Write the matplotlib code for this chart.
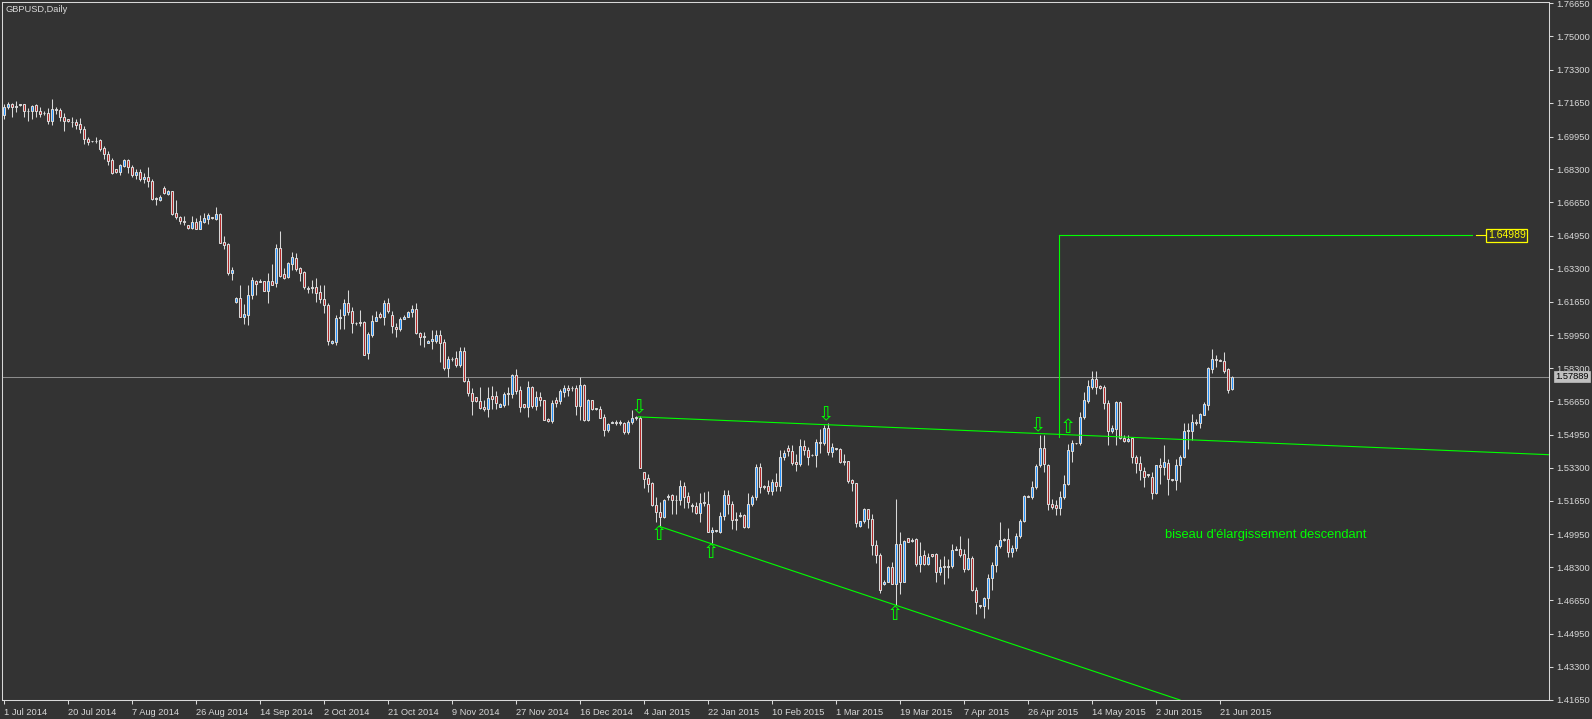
import matplotlib
matplotlib.use("Agg")
import matplotlib.pyplot as plt
from matplotlib.patches import Rectangle

plt.rcParams['font.family'] = ['Liberation Sans', 'DejaVu Sans']

# daily candles GBPUSD, 1 Jul 2014 -> 24 Jun 2015 (bar index 0..307)
opens = [
    1.7102, 1.7142, 1.7159, 1.7147, 1.7155, 1.7159, 1.7123, 1.7122, 1.7152, 1.7122,
    1.7112, 1.7115, 1.7075, 1.7132, 1.7129, 1.7092, 1.7082, 1.7070, 1.7068, 1.7058,
    1.7031, 1.6981, 1.6971, 1.6974, 1.6978, 1.6938, 1.6907, 1.6877, 1.6830, 1.6817,
    1.6847, 1.6877, 1.6844, 1.6800, 1.6815, 1.6780, 1.6790, 1.6770, 1.6683, 1.6676,
    1.6735, 1.6706, 1.6720, 1.6609, 1.6589, 1.6572, 1.6549, 1.6535, 1.6565, 1.6532,
    1.6565, 1.6582, 1.6588, 1.6579, 1.6606, 1.6465, 1.6455, 1.6311, 1.6164, 1.6184,
    1.6090, 1.6100, 1.6197, 1.6267, 1.6262, 1.6267, 1.6220, 1.6267, 1.6257, 1.6435,
    1.6304, 1.6287, 1.6354, 1.6384, 1.6334, 1.6314, 1.6232, 1.6232, 1.6240, 1.6213,
    1.6180, 1.6147, 1.5955, 1.5962, 1.6082, 1.6096, 1.6157, 1.6116, 1.6056, 1.6060,
    1.6063, 1.5905, 1.6000, 1.6070, 1.6103, 1.6090, 1.6157, 1.6100, 1.6040, 1.6026,
    1.6080, 1.6090, 1.6113, 1.6130, 1.6009, 1.5989, 1.5959, 1.5969, 1.5969, 1.5999,
    1.5962, 1.5832, 1.5875, 1.5882, 1.5845, 1.5915, 1.5765, 1.5708, 1.5684, 1.5667,
    1.5637, 1.5624, 1.5691, 1.5691, 1.5637, 1.5646, 1.5703, 1.5703, 1.5796, 1.5722,
    1.5649, 1.5636, 1.5736, 1.5639, 1.5686, 1.5669, 1.5575, 1.5565, 1.5669, 1.5666,
    1.5713, 1.5733, 1.5729, 1.5733, 1.5642, 1.5746, 1.5569, 1.5669, 1.5626, 1.5627,
    1.5585, 1.5518, 1.5555, 1.5560, 1.5557, 1.5555, 1.5512, 1.5559, 1.5582, 1.5582,
    1.5307, 1.5277, 1.5254, 1.5143, 1.5110, 1.5083, 1.5184, 1.5193, 1.5167, 1.5167,
    1.5237, 1.5190, 1.5140, 1.5140, 1.5103, 1.5153, 1.5147, 1.5010, 1.5013, 1.5006,
    1.5086, 1.5194, 1.5150, 1.5073, 1.5090, 1.5093, 1.5033, 1.5146, 1.5183, 1.5336,
    1.5236, 1.5239, 1.5215, 1.5259, 1.5239, 1.5383, 1.5430, 1.5413, 1.5359, 1.5349,
    1.5440, 1.5420, 1.5393, 1.5393, 1.5460, 1.5453, 1.5530, 1.5410, 1.5430, 1.5426,
    1.5359, 1.5363, 1.5269, 1.5252, 1.5038, 1.5061, 1.5121, 1.5075, 1.4941, 1.4890,
    1.4745, 1.4758, 1.4832, 1.4748, 1.4945, 1.4758, 1.4975, 1.4962, 1.4972, 1.4845,
    1.4892, 1.4848, 1.4895, 1.4895, 1.4805, 1.4832, 1.4832, 1.4838, 1.4915, 1.4922,
    1.4899, 1.4822, 1.4878, 1.4714, 1.4640, 1.4637, 1.4677, 1.4778, 1.4842, 1.4939,
    1.4966, 1.4972, 1.4905, 1.4925, 1.4985, 1.5065, 1.5188, 1.5185, 1.5232, 1.5342,
    1.5430, 1.5346, 1.5148, 1.5145, 1.5128, 1.5182, 1.5249, 1.5416, 1.5453, 1.5453,
    1.5584, 1.5668, 1.5738, 1.5775, 1.5741, 1.5735, 1.5658, 1.5513, 1.5527, 1.5661,
    1.5480, 1.5463, 1.5480, 1.5383, 1.5353, 1.5316, 1.5296, 1.5286, 1.5202, 1.5343,
    1.5333, 1.5356, 1.5272, 1.5269, 1.5343, 1.5383, 1.5517, 1.5517, 1.5560, 1.5557,
    1.5597, 1.5648, 1.5828, 1.5875, 1.5872, 1.5868, 1.5825, 1.5724,
]
highs = [
    1.7159, 1.7169, 1.7162, 1.7172, 1.7159, 1.7159, 1.7139, 1.7155, 1.7159, 1.7142,
    1.7122, 1.7139, 1.7182, 1.7142, 1.7139, 1.7112, 1.7085, 1.7092, 1.7082, 1.7088,
    1.7048, 1.6995, 1.6974, 1.6995, 1.6984, 1.6948, 1.6924, 1.6887, 1.6834, 1.6857,
    1.6884, 1.6880, 1.6850, 1.6830, 1.6830, 1.6810, 1.6840, 1.6780, 1.6693, 1.6699,
    1.6745, 1.6726, 1.6723, 1.6676, 1.6596, 1.6596, 1.6552, 1.6596, 1.6586, 1.6602,
    1.6609, 1.6612, 1.6592, 1.6642, 1.6612, 1.6495, 1.6458, 1.6338, 1.6190, 1.6247,
    1.6154, 1.6247, 1.6290, 1.6274, 1.6277, 1.6271, 1.6307, 1.6354, 1.6455, 1.6518,
    1.6334, 1.6364, 1.6415, 1.6411, 1.6341, 1.6317, 1.6244, 1.6274, 1.6284, 1.6250,
    1.6247, 1.6157, 1.5972, 1.6096, 1.6130, 1.6177, 1.6224, 1.6137, 1.6063, 1.6123,
    1.6070, 1.6013, 1.6096, 1.6120, 1.6113, 1.6173, 1.6183, 1.6120, 1.6056, 1.6086,
    1.6096, 1.6120, 1.6147, 1.6157, 1.6013, 1.6013, 1.5972, 1.6023, 1.6023, 1.6023,
    1.5979, 1.5892, 1.5889, 1.5919, 1.5939, 1.5939, 1.5781, 1.5731, 1.5688, 1.5734,
    1.5671, 1.5738, 1.5741, 1.5718, 1.5657, 1.5709, 1.5736, 1.5803, 1.5827, 1.5739,
    1.5649, 1.5766, 1.5743, 1.5716, 1.5709, 1.5672, 1.5579, 1.5672, 1.5686, 1.5726,
    1.5746, 1.5746, 1.5739, 1.5746, 1.5786, 1.5753, 1.5676, 1.5672, 1.5632, 1.5642,
    1.5602, 1.5555, 1.5565, 1.5572, 1.5572, 1.5559, 1.5572, 1.5619, 1.5592, 1.5589,
    1.5309, 1.5301, 1.5257, 1.5183, 1.5160, 1.5173, 1.5200, 1.5196, 1.5193, 1.5271,
    1.5257, 1.5207, 1.5153, 1.5156, 1.5204, 1.5210, 1.5214, 1.5033, 1.5016, 1.5110,
    1.5220, 1.5220, 1.5163, 1.5110, 1.5106, 1.5100, 1.5204, 1.5193, 1.5348, 1.5356,
    1.5246, 1.5269, 1.5276, 1.5306, 1.5420, 1.5420, 1.5443, 1.5443, 1.5400, 1.5477,
    1.5470, 1.5436, 1.5400, 1.5473, 1.5527, 1.5544, 1.5554, 1.5457, 1.5430, 1.5430,
    1.5400, 1.5366, 1.5276, 1.5254, 1.5064, 1.5128, 1.5125, 1.5098, 1.4967, 1.4900,
    1.4765, 1.4835, 1.4858, 1.5173, 1.5006, 1.4966, 1.4979, 1.4975, 1.4976, 1.4959,
    1.4919, 1.4902, 1.4899, 1.4902, 1.4872, 1.4885, 1.4872, 1.4949, 1.4935, 1.4986,
    1.4922, 1.4976, 1.4888, 1.4731, 1.4641, 1.4681, 1.4798, 1.4855, 1.4949, 1.5056,
    1.4979, 1.5026, 1.4940, 1.5000, 1.5075, 1.5195, 1.5191, 1.5262, 1.5349, 1.5493,
    1.5493, 1.5349, 1.5172, 1.5168, 1.5212, 1.5296, 1.5450, 1.5470, 1.5457, 1.5611,
    1.5711, 1.5772, 1.5815, 1.5815, 1.5748, 1.5748, 1.5671, 1.5547, 1.5668, 1.5664,
    1.5497, 1.5493, 1.5483, 1.5393, 1.5390, 1.5336, 1.5299, 1.5309, 1.5346, 1.5380,
    1.5443, 1.5376, 1.5272, 1.5373, 1.5393, 1.5554, 1.5554, 1.5601, 1.5577, 1.5607,
    1.5661, 1.5835, 1.5925, 1.5895, 1.5879, 1.5912, 1.5832, 1.5792,
]
lows = [
    1.7085, 1.7132, 1.7095, 1.7118, 1.7150, 1.7095, 1.7075, 1.7085, 1.7095, 1.7092,
    1.7102, 1.7058, 1.7051, 1.7108, 1.7075, 1.7025, 1.7068, 1.7045, 1.7031, 1.7015,
    1.6958, 1.6954, 1.6968, 1.6961, 1.6924, 1.6881, 1.6850, 1.6807, 1.6814, 1.6804,
    1.6840, 1.6814, 1.6790, 1.6780, 1.6770, 1.6760, 1.6740, 1.6675, 1.6649, 1.6669,
    1.6706, 1.6703, 1.6602, 1.6582, 1.6555, 1.6552, 1.6532, 1.6532, 1.6530, 1.6530,
    1.6559, 1.6555, 1.6582, 1.6576, 1.6460, 1.6432, 1.6301, 1.6274, 1.6160, 1.6088,
    1.6053, 1.6050, 1.6180, 1.6200, 1.6264, 1.6217, 1.6157, 1.6247, 1.6240, 1.6291,
    1.6281, 1.6284, 1.6324, 1.6318, 1.6271, 1.6230, 1.6210, 1.6207, 1.6163, 1.6157,
    1.6106, 1.5949, 1.5952, 1.5949, 1.6029, 1.6029, 1.6096, 1.6006, 1.6050, 1.6043,
    1.5895, 1.5875, 1.5989, 1.6066, 1.6083, 1.6049, 1.6110, 1.6006, 1.5989, 1.6016,
    1.6080, 1.6086, 1.6086, 1.6003, 1.5946, 1.5939, 1.5959, 1.5926, 1.5959, 1.5862,
    1.5822, 1.5788, 1.5865, 1.5838, 1.5835, 1.5761, 1.5691, 1.5594, 1.5661, 1.5627,
    1.5617, 1.5587, 1.5627, 1.5627, 1.5634, 1.5636, 1.5646, 1.5683, 1.5703, 1.5609,
    1.5632, 1.5585, 1.5632, 1.5619, 1.5642, 1.5569, 1.5559, 1.5555, 1.5635, 1.5652,
    1.5686, 1.5693, 1.5716, 1.5595, 1.5569, 1.5565, 1.5565, 1.5622, 1.5621, 1.5579,
    1.5492, 1.5508, 1.5555, 1.5544, 1.5545, 1.5498, 1.5502, 1.5552, 1.5572, 1.5327,
    1.5227, 1.5207, 1.5137, 1.5056, 1.5036, 1.5080, 1.5170, 1.5100, 1.5100, 1.5143,
    1.5130, 1.5127, 1.5110, 1.5096, 1.5060, 1.5137, 1.5006, 1.4952, 1.5006, 1.5003,
    1.5070, 1.5100, 1.5023, 1.5016, 1.5083, 1.5029, 1.5029, 1.5140, 1.5170, 1.5205,
    1.5226, 1.5199, 1.5195, 1.5215, 1.5212, 1.5369, 1.5390, 1.5343, 1.5316, 1.5339,
    1.5393, 1.5343, 1.5390, 1.5333, 1.5406, 1.5446, 1.5393, 1.5383, 1.5420, 1.5356,
    1.5346, 1.5252, 1.5215, 1.5034, 1.5034, 1.5054, 1.5028, 1.4894, 1.4854, 1.4703,
    1.4740, 1.4755, 1.4744, 1.4641, 1.4694, 1.4755, 1.4955, 1.4959, 1.4838, 1.4805,
    1.4842, 1.4842, 1.4882, 1.4758, 1.4791, 1.4744, 1.4778, 1.4825, 1.4915, 1.4882,
    1.4805, 1.4815, 1.4711, 1.4594, 1.4624, 1.4574, 1.4621, 1.4718, 1.4805, 1.4925,
    1.4962, 1.4882, 1.4880, 1.4910, 1.4975, 1.5058, 1.5181, 1.5172, 1.5222, 1.5336,
    1.5309, 1.5118, 1.5122, 1.5091, 1.5091, 1.5175, 1.5246, 1.5359, 1.5450, 1.5447,
    1.5577, 1.5658, 1.5728, 1.5701, 1.5728, 1.5624, 1.5447, 1.5503, 1.5447, 1.5473,
    1.5460, 1.5460, 1.5356, 1.5302, 1.5269, 1.5236, 1.5283, 1.5172, 1.5199, 1.5249,
    1.5292, 1.5192, 1.5262, 1.5219, 1.5259, 1.5380, 1.5423, 1.5470, 1.5547, 1.5530,
    1.5594, 1.5621, 1.5805, 1.5835, 1.5869, 1.5805, 1.5708, 1.5721,
]
closes = [
    1.7142, 1.7159, 1.7142, 1.7144, 1.7155, 1.7122, 1.7122, 1.7149, 1.7122, 1.7108,
    1.7112, 1.7075, 1.7135, 1.7129, 1.7092, 1.7075, 1.7072, 1.7067, 1.7055, 1.7031,
    1.6981, 1.6968, 1.6971, 1.6971, 1.6934, 1.6907, 1.6874, 1.6810, 1.6817, 1.6850,
    1.6877, 1.6844, 1.6800, 1.6815, 1.6780, 1.6790, 1.6770, 1.6683, 1.6683, 1.6693,
    1.6709, 1.6720, 1.6606, 1.6589, 1.6572, 1.6565, 1.6535, 1.6565, 1.6532, 1.6569,
    1.6586, 1.6602, 1.6586, 1.6606, 1.6462, 1.6452, 1.6311, 1.6324, 1.6184, 1.6090,
    1.6103, 1.6197, 1.6274, 1.6254, 1.6267, 1.6220, 1.6267, 1.6250, 1.6435, 1.6294,
    1.6284, 1.6361, 1.6391, 1.6331, 1.6311, 1.6240, 1.6230, 1.6240, 1.6210, 1.6180,
    1.6147, 1.5969, 1.5966, 1.6083, 1.6090, 1.6157, 1.6113, 1.6056, 1.6060, 1.6058,
    1.5899, 1.6003, 1.6070, 1.6086, 1.6090, 1.6157, 1.6116, 1.6043, 1.6026, 1.6080,
    1.6090, 1.6113, 1.6130, 1.6009, 1.5989, 1.5989, 1.5969, 1.5979, 1.5999, 1.5959,
    1.5832, 1.5875, 1.5878, 1.5845, 1.5915, 1.5765, 1.5708, 1.5667, 1.5664, 1.5631,
    1.5624, 1.5681, 1.5677, 1.5657, 1.5651, 1.5703, 1.5703, 1.5796, 1.5716, 1.5636,
    1.5636, 1.5736, 1.5639, 1.5686, 1.5669, 1.5572, 1.5565, 1.5656, 1.5656, 1.5716,
    1.5733, 1.5719, 1.5731, 1.5642, 1.5746, 1.5569, 1.5672, 1.5626, 1.5630, 1.5582,
    1.5518, 1.5549, 1.5560, 1.5557, 1.5560, 1.5512, 1.5559, 1.5579, 1.5585, 1.5331,
    1.5274, 1.5250, 1.5143, 1.5106, 1.5083, 1.5167, 1.5190, 1.5167, 1.5170, 1.5237,
    1.5183, 1.5160, 1.5140, 1.5103, 1.5153, 1.5157, 1.5009, 1.5016, 1.5016, 1.5086,
    1.5194, 1.5147, 1.5070, 1.5070, 1.5093, 1.5033, 1.5150, 1.5183, 1.5334, 1.5236,
    1.5236, 1.5215, 1.5259, 1.5239, 1.5383, 1.5406, 1.5413, 1.5353, 1.5349, 1.5440,
    1.5420, 1.5386, 1.5396, 1.5460, 1.5455, 1.5530, 1.5410, 1.5436, 1.5426, 1.5359,
    1.5359, 1.5265, 1.5252, 1.5054, 1.5061, 1.5121, 1.5075, 1.4941, 1.4890, 1.4716,
    1.4758, 1.4832, 1.4748, 1.4945, 1.4758, 1.4962, 1.4959, 1.4968, 1.4845, 1.4889,
    1.4848, 1.4882, 1.4885, 1.4805, 1.4832, 1.4832, 1.4838, 1.4915, 1.4920, 1.4892,
    1.4822, 1.4878, 1.4714, 1.4654, 1.4637, 1.4674, 1.4778, 1.4842, 1.4939, 1.4966,
    1.4972, 1.4905, 1.4925, 1.4985, 1.5065, 1.5188, 1.5185, 1.5235, 1.5339, 1.5430,
    1.5349, 1.5148, 1.5135, 1.5128, 1.5185, 1.5249, 1.5420, 1.5457, 1.5453, 1.5584,
    1.5671, 1.5741, 1.5778, 1.5738, 1.5731, 1.5654, 1.5513, 1.5530, 1.5661, 1.5480,
    1.5463, 1.5477, 1.5383, 1.5353, 1.5319, 1.5286, 1.5296, 1.5202, 1.5343, 1.5333,
    1.5359, 1.5272, 1.5269, 1.5343, 1.5386, 1.5517, 1.5517, 1.5560, 1.5557, 1.5601,
    1.5651, 1.5832, 1.5875, 1.5870, 1.5869, 1.5818, 1.5721, 1.5788,
]

date_labels = ["1 Jul 2014", "20 Jul 2014", "7 Aug 2014", "26 Aug 2014", "14 Sep 2014",
               "2 Oct 2014", "21 Oct 2014", "9 Nov 2014", "27 Nov 2014", "16 Dec 2014",
               "4 Jan 2015", "22 Jan 2015", "10 Feb 2015", "1 Mar 2015", "19 Mar 2015",
               "7 Apr 2015", "26 Apr 2015", "14 May 2015", "2 Jun 2015", "21 Jun 2015"]
label_step = 16  # bars between two date labels

price_labels = ["1.76650", "1.75000", "1.73300", "1.71650", "1.69950", "1.68300",
                "1.66650", "1.64950", "1.63300", "1.61650", "1.59950", "1.58300",
                "1.56650", "1.54950", "1.53300", "1.51650", "1.49950", "1.48300",
                "1.46650", "1.44950", "1.43300", "1.41650"]
price_ticks = [float(s) for s in price_labels]

bid_price = 1.57889
target_price = 1.64989

# drawn objects (bar index, price)
upper_line = ([158.6, 386.3], [1.5586, 1.5396])
lower_line = ([163.9, 294.1], [1.5036, 1.4163])
measure_bar = 263.9
measure_low = 1.5487
measure_end = 367.0
arrows_down = [(158.8, 1.5630), (205.5, 1.5597), (258.5, 1.5542)]
arrows_up = [(163.9, 1.4994), (176.7, 1.4906), (222.8, 1.4595), (265.9, 1.5533)]
note = "biseau d'élargissement descendant"
note_pos = (290.4, 1.4993)

bg = "#333333"
fg = "#d8d8d8"
bull = "#1e90ff"
bear = "#b22222"
green = "#00ff00"
yellow = "#ffff00"

fig = plt.figure(figsize=(15.92, 7.19), dpi=100)
fig.patch.set_facecolor(bg)
ax = fig.add_axes([2 / 1592, 19 / 719, 1547 / 1592, 698 / 719])
ax.set_facecolor(bg)

n = len(closes)
ax.vlines(range(n), lows, highs, color=fg, lw=0.75, zorder=2)
for i in range(n):
    o, c = opens[i], closes[i]
    if c > o:
        col = bull
    elif c < o:
        col = bear
    else:
        col = fg
    ax.add_patch(Rectangle((i - 0.28, min(o, c)), 0.56, max(abs(c - o), 0.0003),
                           facecolor=col, edgecolor=fg, lw=0.75, zorder=3))

ax.axhline(bid_price, color="#8c8c8c", lw=0.75, zorder=1)

ax.plot(upper_line[0], upper_line[1], color=green, lw=0.8, zorder=4)
ax.plot(lower_line[0], lower_line[1], color=green, lw=0.8, zorder=4)
ax.plot([measure_bar, measure_bar], [measure_low, target_price], color=green, lw=0.8, zorder=4)
ax.plot([measure_bar, measure_end], [target_price, target_price], color=green, lw=0.8, zorder=4)
ax.plot([measure_end + 1.1, measure_end + 3.6], [target_price, target_price], color=yellow, lw=0.8)
ax.text(measure_end + 4.0, target_price, "1.64989", color=yellow, fontsize=7.5,
        ha="left", va="center",
        bbox=dict(boxstyle="square,pad=0.15", facecolor=bg, edgecolor=yellow, lw=0.9))

for xa, ya in arrows_down:
    ax.text(xa, ya, "\u21e9", family="DejaVu Sans", color=green, fontsize=14,
            ha="center", va="center", zorder=5)
for xa, ya in arrows_up:
    ax.text(xa, ya, "\u21e7", family="DejaVu Sans", color=green, fontsize=14,
            ha="center", va="center", zorder=5)

ax.text(note_pos[0], note_pos[1], note, color=green, fontsize=9.3, ha="left", va="center")

ax.set_xlim(-0.425, 386.3)
ax.set_ylim(1.41633, 1.76709)

ax.yaxis.tick_right()
ax.set_yticks(price_ticks)
ax.set_yticklabels(price_labels)
ax.tick_params(axis="y", colors=fg, labelsize=6.7, length=3, width=0.75, pad=2)
ax.set_xticks([label_step * k for k in range(len(date_labels))])
ax.set_xticklabels(date_labels, ha="left")
ax.tick_params(axis="x", colors=fg, labelsize=6.7, length=3, width=0.75, pad=3)
for s in ax.spines.values():
    s.set_color(fg)
    s.set_linewidth(0.75)

ax.text(1.004, bid_price, "1.57889", transform=ax.get_yaxis_transform(), color="#000000",
        fontsize=6.7, ha="left", va="center",
        bbox=dict(boxstyle="square,pad=0.15", facecolor="#c0c0c0", edgecolor="#c0c0c0", lw=0.5))

fig.text(6 / 1592, 1 - 10 / 719, "GBPUSD,Daily", color=fg, fontsize=6.7, ha="left", va="center")

fig.savefig("out.png", dpi=100, facecolor=bg)
